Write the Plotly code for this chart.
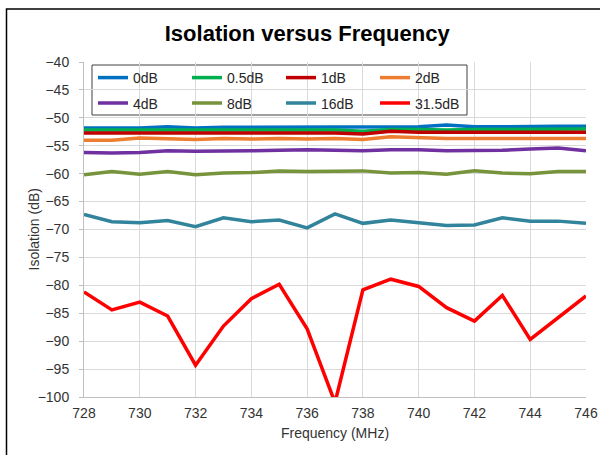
import plotly.graph_objects as go

freq = list(range(728, 747))

s_0dB = [-51.8, -51.8, -51.8, -51.6, -51.8, -51.7, -51.7, -51.6, -51.6, -51.6,
         -51.6, -51.6, -51.6, -51.3, -51.6, -51.6, -51.5, -51.5, -51.5]
s_05dB = [-52.2, -52.2, -52.2, -52.2, -52.2, -52.2, -52.2, -52.1, -52.1, -52.2,
          -52.4, -52.1, -52.1, -52.2, -52.1, -52.1, -52.0, -52.0, -52.0]
s_1dB = [-52.7, -52.7, -52.6, -52.7, -52.7, -52.6, -52.6, -52.6, -52.7, -52.7,
         -52.9, -52.4, -52.6, -52.6, -52.6, -52.6, -52.6, -52.6, -52.6]
s_2dB = [-54.0, -54.0, -53.6, -53.8, -53.9, -53.7, -53.8, -53.7, -53.8, -53.7,
         -53.9, -53.4, -53.6, -53.7, -53.7, -53.7, -53.6, -53.6, -53.7]
s_4dB = [-56.2, -56.3, -56.2, -55.9, -56.0, -56.0, -55.9, -55.8, -55.7, -55.8,
         -55.9, -55.7, -55.7, -55.9, -55.9, -55.8, -55.6, -55.4, -55.9]
s_8dB = [-60.2, -59.6, -60.1, -59.6, -60.2, -59.9, -59.8, -59.5, -59.6, -59.6,
         -59.5, -59.9, -59.8, -60.1, -59.5, -59.9, -60.0, -59.6, -59.6]
s_16dB = [-67.3, -68.6, -68.8, -68.4, -69.5, -67.9, -68.6, -68.3, -69.7, -67.2,
          -68.9, -68.3, -68.8, -69.3, -69.2, -67.9, -68.5, -68.5, -68.9]
s_315dB = [-81.2, -84.4, -83.0, -85.5, -94.3, -87.3, -82.4, -79.8, -87.8, -101.0,
           -80.8, -78.9, -80.2, -84.0, -86.4, -81.8, -89.7, -85.8, -81.9]

names = ["0dB", "0.5dB", "1dB", "2dB", "4dB", "8dB", "16dB", "31.5dB"]
values = [s_0dB, s_05dB, s_1dB, s_2dB, s_4dB, s_8dB, s_16dB, s_315dB]
colors = ["#0070C0", "#00B050", "#C00000", "#ED7D31",
          "#7030A0", "#77933C", "#31849B", "#FF0000"]

FONT = "Liberation Sans, Arial, sans-serif"

fig = go.Figure()
for i, (name, vals, col) in enumerate(zip(names, values, colors)):
    fig.add_trace(go.Scatter(
        x=freq, y=vals, mode="lines", name=name,
        line=dict(color=col, width=3.5),
        legend="legend" if i < 4 else "legend2",
    ))

W, H = 600, 455
L, R, T, B = 84, 14, 62, 58
pw, ph = W - L - R, H - T - B

def px(x):
    return (x - L) / pw

def py(y):
    return 1 - (y - T) / ph

leg_common = dict(
    orientation="h", xanchor="left", yanchor="middle",
    bgcolor="rgba(0,0,0,0)", borderwidth=0,
    font=dict(family=FONT, size=14, color="#262626"),
    entrywidth=49, entrywidthmode="pixels", itemwidth=30,
)

fig.update_layout(
    width=W, height=H,
    margin=dict(l=L, r=R, t=T, b=B, autoexpand=False),
    paper_bgcolor="white", plot_bgcolor="white",
    font=dict(family=FONT, size=14, color="#404040"),
    title=dict(text="<b>Isolation versus Frequency</b>", x=0.512, xref="container",
               y=1 - 33 / H, yref="container", xanchor="center", yanchor="middle",
               font=dict(family=FONT, size=22, color="#000000")),
    legend=dict(x=px(93), y=py(78), **leg_common),
    legend2=dict(x=px(93), y=py(103.5), **leg_common),
    xaxis=dict(
        range=[728, 746], tick0=728, dtick=2, automargin=False,
        showgrid=True, gridcolor="#D9D9D9", gridwidth=1,
        showline=True, linecolor="#BFBFBF", linewidth=1,
        zeroline=False, ticks="", ticklabelstandoff=3,
        tickfont=dict(family=FONT, size=14, color="#333333"),
        title=dict(text="Frequency (MHz)", standoff=8,
                   font=dict(family=FONT, size=14, color="#333333")),
    ),
    yaxis=dict(
        range=[-100, -40], tick0=-100, dtick=5, automargin=False,
        showgrid=True, gridcolor="#D9D9D9", gridwidth=1,
        showline=True, linecolor="#BFBFBF", linewidth=1,
        zeroline=False, ticks="outside", ticklen=4, tickcolor="#BFBFBF",
        ticklabelstandoff=7,
        tickfont=dict(family=FONT, size=14, color="#333333"),
    ),
    annotations=[
        dict(text="Isolation (dB)", xref="paper", yref="paper",
             x=px(33), y=0.5, xanchor="center", yanchor="middle",
             textangle=-90, showarrow=False,
             font=dict(family=FONT, size=14, color="#333333")),
    ],
    shapes=[
        dict(type="rect", xref="paper", yref="paper",
             x0=px(92), x1=px(467), y0=py(115), y1=py(65),
             line=dict(color="#404040", width=1), fillcolor="white", layer="between"),
        dict(type="rect", xref="paper", yref="paper",
             x0=px(6.5), x1=px(640), y0=py(490), y1=py(9),
             line=dict(color="#000000", width=1.5), fillcolor="rgba(0,0,0,0)",
             layer="above"),
    ],
    showlegend=True,
)

fig.write_html(
    "out.html",
    config={"displayModeBar": False},
    post_script="document.body.style.margin='0';document.body.style.overflow='hidden';",
)
